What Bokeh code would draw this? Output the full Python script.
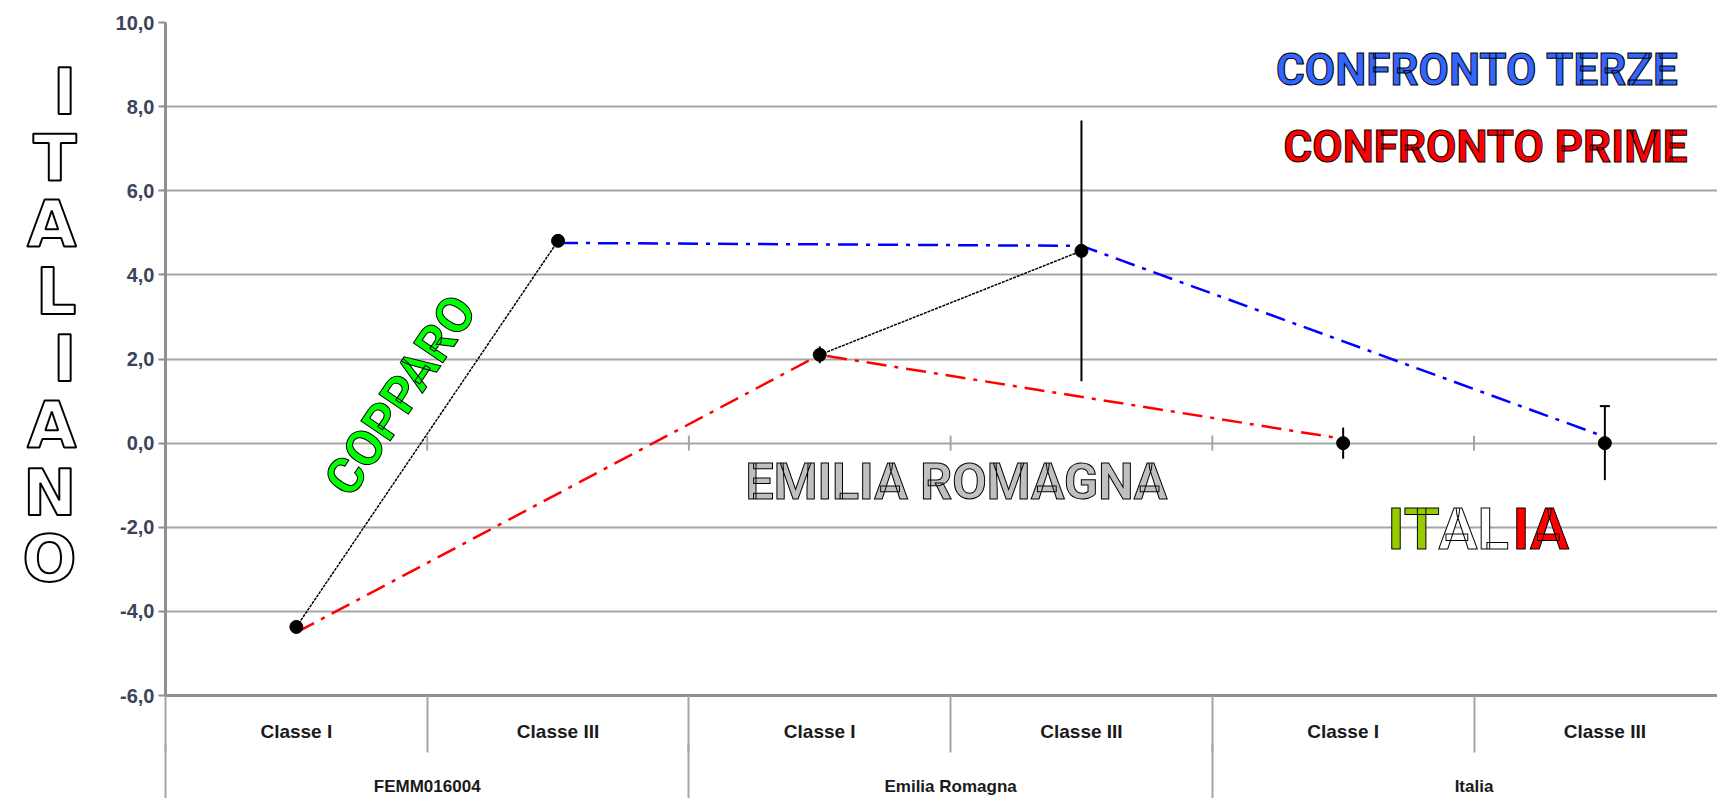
import math
from bokeh.plotting import figure
from bokeh.models import Range1d, LinearAxis, FixedTicker, CustomJSTickFormatter, Label
from bokeh.embed import file_html
from bokeh.resources import INLINE

# ---------------- data ----------------
classes = ["Classe I", "Classe III", "Classe I", "Classe III", "Classe I", "Classe III"]
groups = ["FEMM016004", "Emilia Romagna", "Italia"]
values = [-4.37, 4.81, 2.10, 4.57, 0.0, 0.0]
errors = [0.0, 0.0, 0.20, 3.10, 0.37, 0.88]
confronto_terze = [4.76, 4.69, 0.15]   # at the "Classe III" categories
confronto_prime = [-4.50, 2.10, 0.10]  # at the "Classe I" categories
y_ticks = [-6, -4, -2, 0, 2, 4, 6, 8, 10]
side_word = "ITALIANO"

# ---------------- layout ----------------
W, H = 1717, 798
LEFT, TOP, BOTTOM = 165, 22, 99
CAT_PX = 261.7
Y0, Y1 = -6, 10
frame_w = W - LEFT
frame_h = H - TOP - BOTTOM
x_end = frame_w / CAT_PX


def dx(px):  # page pixel -> data x
    return (px - LEFT) / CAT_PX


def dy(py):  # page pixel -> data y
    return Y1 - (py - TOP) * (Y1 - Y0) / frame_h


GRID = "#a6a6a6"
AXIS = "#8f8f8f"
LABEL_FONT = "Liberation Sans"
DISPLAY_FONT = "Roboto"

p = figure(width=W, height=H, output_backend="svg", toolbar_location=None,
           x_range=Range1d(0, x_end), y_range=Range1d(Y0, Y1),
           min_border_left=LEFT, min_border_top=TOP, min_border_bottom=BOTTOM,
           min_border_right=0)
p.outline_line_color = None
p.background_fill_color = "white"
p.border_fill_color = "white"

# y axis
p.yaxis.ticker = FixedTicker(ticks=y_ticks)
p.yaxis.formatter = CustomJSTickFormatter(code="return tick.toFixed(1).replace('.', ',')")
p.yaxis.axis_line_color = AXIS
p.yaxis.axis_line_width = 3
p.yaxis.major_tick_in = 0
p.yaxis.major_tick_out = 7
p.yaxis.major_tick_line_color = AXIS
p.yaxis.major_tick_line_width = 2
p.yaxis.minor_tick_line_color = None
p.yaxis.major_label_text_font = LABEL_FONT
p.yaxis.major_label_text_font_style = "bold"
p.yaxis.major_label_text_font_size = "20px"
p.yaxis.major_label_text_color = "#3c4358"
p.yaxis.major_label_standoff = 4
# stacked outlined word on the left
p.yaxis.axis_label = "\n".join(side_word) + "\n"
p.yaxis.axis_label_orientation = "horizontal"
p.yaxis.axis_label_text_font = "DejaVu Sans"
p.yaxis.axis_label_text_font_style = "bold"
p.yaxis.axis_label_text_font_size = "64px"
p.yaxis.axis_label_text_color = "white"
p.yaxis.axis_label_text_outline_color = "black"
p.yaxis.axis_label_text_line_height = 0.903
p.yaxis.axis_label_standoff = 36

p.ygrid.ticker = FixedTicker(ticks=y_ticks)
p.ygrid.grid_line_color = GRID
p.ygrid.grid_line_width = 2
p.xgrid.visible = False

n = len(classes)
centers = [i + 0.5 for i in range(n)]

# class axis
xa = p.xaxis[0]
xa.ticker = FixedTicker(ticks=centers, minor_ticks=list(range(n + 1)))
xa.formatter = CustomJSTickFormatter(args=dict(labels=classes),
                                     code="return labels[Math.floor(tick)]")
xa.axis_line_color = AXIS
xa.axis_line_width = 3
xa.major_tick_in = 0
xa.major_tick_out = 0
xa.minor_tick_in = 0
xa.minor_tick_out = 57
xa.minor_tick_line_color = GRID
xa.minor_tick_line_width = 2
xa.major_label_standoff = -32
xa.major_label_text_font = LABEL_FONT
xa.major_label_text_font_style = "bold"
xa.major_label_text_font_size = "19px"
xa.major_label_text_color = "#1a1a1a"

# group axis
gcenters = [2 * g + 1 for g in range(len(groups))]
ga = LinearAxis(ticker=FixedTicker(ticks=gcenters, minor_ticks=list(range(0, n + 1, 2))),
                formatter=CustomJSTickFormatter(args=dict(labels=groups),
                                                code="return labels[Math.round((tick - 1) / 2)]"),
                axis_line_color=None, major_tick_in=0, major_tick_out=0,
                minor_tick_in=0, minor_tick_out=70,
                minor_tick_line_color=GRID, minor_tick_line_width=2,
                major_label_standoff=-38)
ga.major_label_text_font = LABEL_FONT
ga.major_label_text_font_style = "bold"
ga.major_label_text_font_size = "17px"
ga.major_label_text_color = "#1a1a1a"
p.add_layout(ga, "below")

# small ticks on the zero line at category boundaries
p.scatter(x=list(range(1, n)), y=[0] * (n - 1), marker="dash", angle=math.pi / 2,
          size=15, line_color=GRID, line_width=2)

# comparison lines
prime_x = centers[0::2]
terze_x = centers[1::2]
p.line(terze_x, confronto_terze, line_color="#0000ff", line_width=2.5, line_dash="20 8 4 8")
p.line(prime_x, confronto_prime, line_color="#ff0000", line_width=2.5, line_dash="20 8 4 8")

# main series: lines inside the first two groups
for g in range(2):
    p.line(centers[2 * g:2 * g + 2], values[2 * g:2 * g + 2], line_color="black",
           line_width=1.5, line_dash="3 1")

# error bars
lo = [v - e for v, e in zip(values, errors)]
hi = [v + e for v, e in zip(values, errors)]
p.segment(x0=centers, y0=lo, x1=centers, y1=hi, line_color="black", line_width=2)
p.scatter(x=[centers[5]], y=[hi[5]], marker="dash", size=10, line_color="black", line_width=2)
p.scatter(x=centers, y=values, marker="circle", size=13, fill_color="black", line_color="black")


def outlined(text, x, y, color, size, font=DISPLAY_FONT, align="center", angle=0.0):
    lab = Label(x=x, y=y, text=text, text_color=color, text_font=font,
                text_font_size=f"{size}px", text_font_style="bold",
                text_align=align, text_baseline="middle", angle=angle,
                text_outline_color="black")
    p.add_layout(lab)


outlined("CONFRONTO TERZE", dx(1477), dy(70), "#3366ff", 44)
outlined("CONFRONTO PRIME", dx(1485), dy(147), "#ff0000", 44)
outlined("COPPARO", dx(400), dy(397), "#00ff00", 50, angle=math.radians(56))
outlined("EMILIA ROMAGNA", dx(956), dy(484), "#c0c0c0", 50)
outlined("IT", dx(1387), dy(532), "#99cc00", 58, align="left")
outlined("AL", dx(1438), dy(532), "#ffffff", 58, align="left")
outlined("IA", dx(1512), dy(532), "#ff0000", 58, align="left")

open("out.html", "w").write(file_html(p, INLINE))
